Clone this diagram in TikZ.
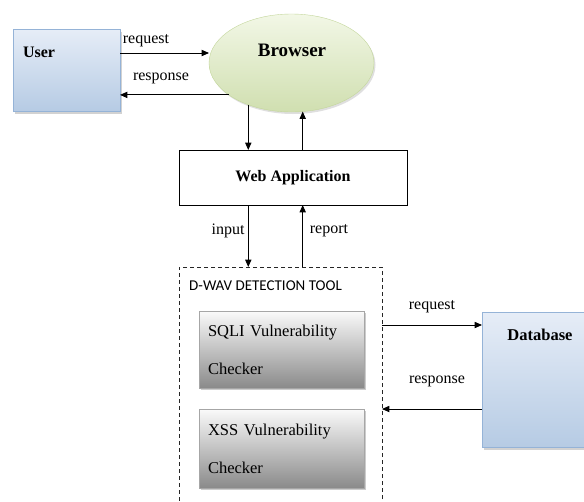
\documentclass[tikz,border=0pt]{standalone}
\usepackage{fontspec}
\setmainfont{Liberation Serif}
\newfontfamily\toolfont{Carlito}
\usetikzlibrary{arrows.meta,shapes.geometric,shadows,positioning}
\definecolor{bluetop}{HTML}{E6EDF7}
\definecolor{bluebot}{HTML}{B6CBE4}
\definecolor{blueline}{HTML}{95B3D7}
\definecolor{greentop}{HTML}{F2F7E6}
\definecolor{greenbot}{HTML}{D0DFB0}
\definecolor{greenline}{HTML}{C3D69B}
\definecolor{graytop}{HTML}{FAFAFA}
\definecolor{graybot}{HTML}{8A8A8A}
\tikzset{
  arr/.style={-{Triangle[length=2.6mm,width=2.2mm]},black,line width=0.9pt},
  bluebox/.style={draw=blueline,top color=bluetop,bottom color=bluebot,outer sep=0pt,
    drop shadow={shadow xshift=2pt,shadow yshift=-2.5pt,fill=gray!70}},
  greenell/.style={ellipse,draw=greenline,top color=greentop,bottom color=greenbot,outer sep=0pt,
    drop shadow={shadow xshift=1.5pt,shadow yshift=-2pt,fill=gray!50}},
  graybox/.style={draw=gray!70,top color=graytop,bottom color=graybot,outer sep=0pt,
    minimum width=165pt,text width=147pt,align=left,font=\fontsize{16.5}{38}\selectfont,
    drop shadow={shadow xshift=1.5pt,shadow yshift=-2pt,fill=gray!80}},
  plainbox/.style={draw=black,line width=0.8pt,outer sep=0pt},
  toolbox/.style={draw=black!85,line width=0.8pt,dash pattern=on 4pt off 3pt,outer sep=0pt},
  lbl/.style={font=\fontsize{16}{18}\selectfont,inner sep=0pt},
  title/.style={font=\fontsize{16}{18}\selectfont\bfseries,inner sep=0pt},
}
\begin{document}
\begin{tikzpicture}[x=1pt,y=-1pt]
  \clip (0,0) rectangle (584,501);
  % user and browser
  \node[bluebox,minimum width=107pt,minimum height=82pt] (user) at (66.5,70) {};
  \node[title] (usertxt) at (39,52) {User};
  \node[greenell,minimum width=165pt,minimum height=98pt] (browser) at (291.5,63) {};
  \node[title,font=\fontsize{19}{21}\selectfont\bfseries] (browsertxt) at (292,50) {Browser};
  \draw[arr] ([yshift=-24pt]user.north east) -- ([yshift=-24pt]user.north east -| browser.west);
  \draw[arr] (browser.207) -- (browser.207 -| user.east);
  \node[lbl] (ureq) at (146,41) {request};
  \node[lbl] (ures) at (161,78) {response};
  % web application
  \node[plainbox,minimum width=228pt,minimum height=55pt,title] (webapp) at (293,177.5) {Web Application};
  \draw[arr] (browser.224) -- (browser.224 |- webapp.north);
  \draw[arr] (webapp.north -| browser.283) -- (browser.283);
  % detection tool
  \node[toolbox,minimum width=203pt,minimum height=253pt] (tool) at (280.5,393.5) {};
  \node[anchor=west,inner sep=0pt,font=\toolfont\fontsize{15}{17}\selectfont] (tooltxt) at (189,286) {D-WAV DETECTION TOOL};
  \draw[arr] (browser.224 |- webapp.south) -- (browser.224 |- tool.north);
  \draw[arr] (browser.283 |- tool.north) -- (browser.283 |- webapp.south);
  \node[lbl] (tin) at (228,231) {input};
  \node[lbl] (trep) at (329,231) {report};
  \node[graybox,minimum height=77pt] (sqli) at (281.5,349.5) {SQLI Vulnerability\\Checker};
  \node[graybox,minimum height=79pt] (xss) at (281.5,448.5) {XSS Vulnerability\\Checker};
  % database
  \node[bluebox,minimum width=118pt,minimum height=135pt] (db) at (541,379.5) {};
  \node[title,font=\fontsize{16.5}{18}\selectfont\bfseries] (dbtxt) at (540,335) {Database};
  \coordinate (dbreq) at ([yshift=-13pt]db.north west);
  \coordinate (dbres) at ([yshift=-97pt]db.north west);
  \draw[arr] (tool.east |- dbreq) -- (dbreq);
  \draw[arr] (dbres) -- (tool.east |- dbres);
  \node[lbl] (dreq) at (432,307) {request};
  \node[lbl] (dres) at (437,381) {response};
\end{tikzpicture}
\end{document}
